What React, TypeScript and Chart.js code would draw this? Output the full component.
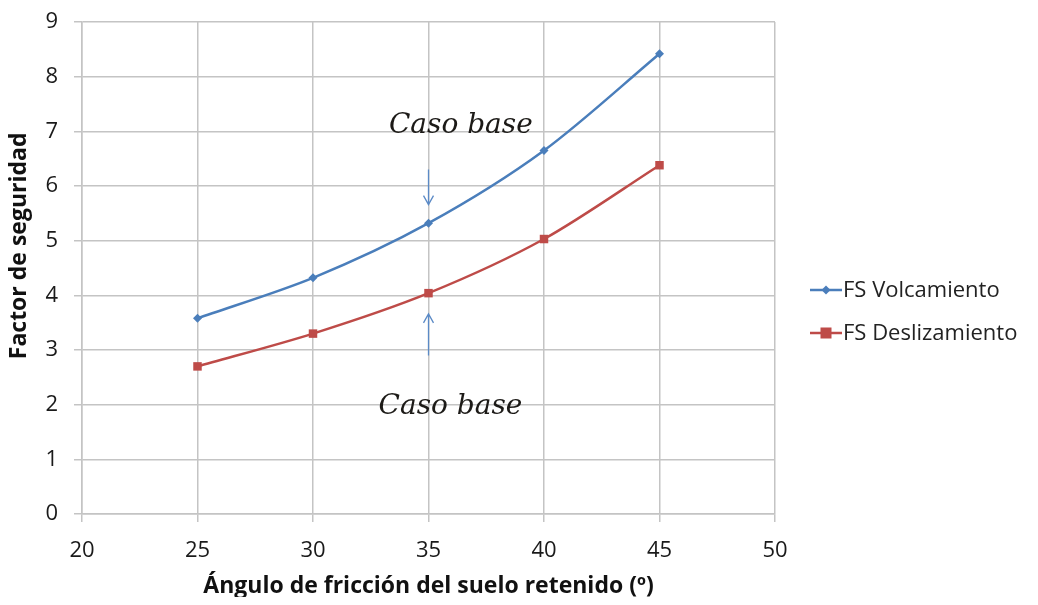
import React, { useEffect, useRef } from "react";
import { Chart, registerables } from "chart.js";

Chart.register(...registerables);

// Friction angle of the retained soil (degrees)
const angles = [25, 30, 35, 40, 45];
// Safety factors
const fsVolcamiento = [3.58, 4.32, 5.32, 6.65, 8.42];
const fsDeslizamiento = [2.7, 3.3, 4.04, 5.03, 6.38];

const seriesNames = ["FS Volcamiento", "FS Deslizamiento"];
const seriesColors = ["#4a7ebb", "#be4b48"];

const xTitle = "Ángulo de fricción del suelo retenido (º)";
const yTitle = "Factor de seguridad";

// "Caso base" callouts at the base-case angle: label position and arrow (from, to)
const baseAngle = 35;
const calloutLabel = "Caso base";
const topCallout = { labelX: 36.4, labelY: 7.1, arrowFrom: 6.3, arrowTo: 5.66 };
const bottomCallout = { labelX: 35.95, labelY: 1.96, arrowFrom: 2.9, arrowTo: 3.66 };

const uiFont = "'Open Sans', sans-serif";

const calloutPlugin = {
  id: "calloutPlugin",
  afterDatasetsDraw(chart: any) {
    const { ctx, scales } = chart;
    const xs = scales.x;
    const ys = scales.y;
    ctx.save();
    const drawArrow = (fromV: number, toV: number) => {
      const x = xs.getPixelForValue(baseAngle);
      const y0 = ys.getPixelForValue(fromV);
      const y1 = ys.getPixelForValue(toV);
      const dir = y1 > y0 ? 1 : -1;
      ctx.strokeStyle = "#5b8ac6";
      ctx.lineWidth = 1.3;
      ctx.beginPath();
      ctx.moveTo(x, y0);
      ctx.lineTo(x, y1);
      ctx.moveTo(x - 5, y1 - dir * 9);
      ctx.lineTo(x, y1);
      ctx.lineTo(x + 5, y1 - dir * 9);
      ctx.stroke();
    };
    drawArrow(topCallout.arrowFrom, topCallout.arrowTo);
    drawArrow(bottomCallout.arrowFrom, bottomCallout.arrowTo);

    ctx.fillStyle = "#1c1a17";
    ctx.font = "italic 28px 'DejaVu Serif', serif";
    ctx.textAlign = "center";
    ctx.textBaseline = "middle";
    ctx.fillText(calloutLabel, xs.getPixelForValue(topCallout.labelX), ys.getPixelForValue(topCallout.labelY));
    ctx.fillText(calloutLabel, xs.getPixelForValue(bottomCallout.labelX), ys.getPixelForValue(bottomCallout.labelY));
    ctx.restore();
  },
};

// Side legend (line sample with marker + name) and the rotated y-axis title
const legendPlugin = {
  id: "sideLegend",
  afterDraw(chart: any) {
    const { ctx, chartArea } = chart;
    const x0 = chartArea.right + 35;
    const yStart = 282;
    const rowGap = 43;
    ctx.save();
    ctx.font = `22px ${uiFont}`;
    ctx.textBaseline = "middle";
    ctx.textAlign = "left";
    seriesNames.forEach((name, i) => {
      const y = yStart + i * rowGap;
      const color = seriesColors[i];
      ctx.strokeStyle = color;
      ctx.lineWidth = 2.5;
      ctx.beginPath();
      ctx.moveTo(x0, y);
      ctx.lineTo(x0 + 32, y);
      ctx.stroke();
      ctx.fillStyle = color;
      const cx = x0 + 16;
      if (i === 0) {
        ctx.beginPath();
        ctx.moveTo(cx, y - 4.5);
        ctx.lineTo(cx + 4.5, y);
        ctx.lineTo(cx, y + 4.5);
        ctx.lineTo(cx - 4.5, y);
        ctx.closePath();
        ctx.fill();
      } else {
        ctx.fillRect(cx - 5.5, y - 5.5, 11, 11);
      }
      ctx.fillStyle = "#222";
      ctx.fillText(name, x0 + 33, y + 1);
    });

    // y-axis title
    const ty = chartArea.top + (chartArea.bottom - chartArea.top) * 0.455;
    ctx.translate(11, ty);
    ctx.rotate(-Math.PI / 2);
    ctx.font = `bold 23px ${uiFont}`;
    ctx.fillStyle = "#111";
    ctx.textAlign = "center";
    ctx.textBaseline = "middle";
    ctx.fillText(yTitle, 0, 0);
    ctx.restore();
  },
};

export default function App() {
  const canvasRef = useRef<HTMLCanvasElement | null>(null);

  useEffect(() => {
    if (!canvasRef.current) return;
    const chart = new Chart(canvasRef.current, {
      type: "line",
      data: {
        datasets: [
          {
            label: seriesNames[0],
            data: angles.map((a, i) => ({ x: a, y: fsVolcamiento[i] })),
            borderColor: seriesColors[0],
            backgroundColor: seriesColors[0],
            borderWidth: 2.5,
            pointStyle: "rectRot",
            pointRadius: 4.5,
            pointBorderWidth: 0,
            tension: 0.3,
          },
          {
            label: seriesNames[1],
            data: angles.map((a, i) => ({ x: a, y: fsDeslizamiento[i] })),
            borderColor: seriesColors[1],
            backgroundColor: seriesColors[1],
            borderWidth: 2.5,
            pointStyle: "rect",
            pointRadius: 6,
            pointBorderWidth: 0,
            tension: 0.3,
          },
        ],
      },
      options: {
        animation: false,
        responsive: true,
        maintainAspectRatio: false,
        layout: { padding: { left: 0, right: 255, top: 14, bottom: 0 } },
        plugins: {
          legend: { display: false },
          tooltip: { enabled: false },
        },
        scales: {
          x: {
            type: "linear",
            min: 20,
            max: 50,
            afterFit: (axis: any) => {
              axis.height = 83;
              axis.paddingLeft = 0;
              axis.paddingRight = 0;
            },
            ticks: { stepSize: 5, color: "#1a1a1a", font: { family: uiFont, size: 22 }, padding: 16 },
            grid: { color: "#c4c4c4", lineWidth: 1.5, tickLength: 8 },
            border: { color: "#c4c4c4", width: 1.5 },
            title: {
              display: true,
              text: xTitle,
              color: "#111",
              font: { family: uiFont, size: 23, weight: "bold", lineHeight: 0.9 },
              padding: { top: 0, bottom: 0 },
            },
          },
          y: {
            min: 0,
            max: 9,
            afterFit: (axis: any) => {
              axis.width = 74;
              axis.paddingTop = 0;
              axis.paddingBottom = 0;
            },
            ticks: { stepSize: 1, color: "#1a1a1a", font: { family: uiFont, size: 22 }, padding: 16 },
            grid: { color: "#c4c4c4", lineWidth: 1.5, tickLength: 8 },
            border: { color: "#c4c4c4", width: 1.5 },
            title: { display: false },
          },
        },
      },
      plugins: [calloutPlugin, legendPlugin],
    });
    return () => chart.destroy();
  }, []);

  return (
    <div style={{ width: 1022, height: 589, position: "relative" }}>
      <canvas ref={canvasRef} />
    </div>
  );
}
